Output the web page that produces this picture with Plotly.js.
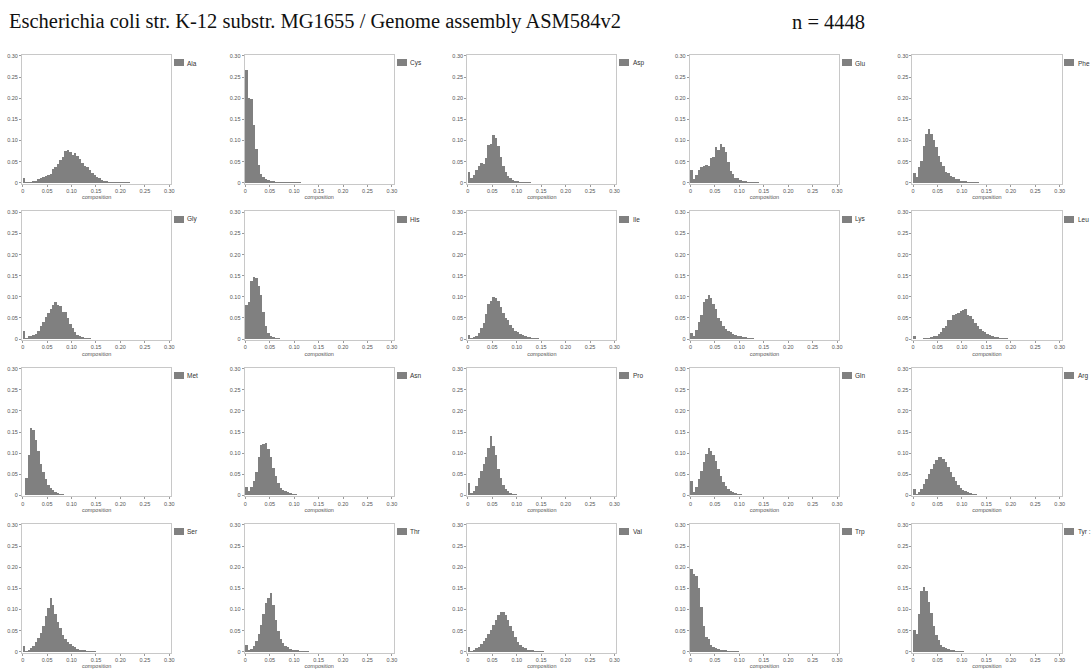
<!DOCTYPE html>
<html>
<head>
<meta charset="utf-8">
<script src="https://cdn.plot.ly/plotly-3.0.1.min.js"></script>
<style>html,body{margin:0;padding:0;background:#fff;}#chart{width:1091px;height:669px;}</style>
</head>
<body>
<div id="chart"></div>
<script>
// ---- data: relative frequency per composition bin (bin width 0.005, first bin starts at 0) ----
const binStart = 0;
const binWidth = 0.005;
const labels = ["Ala","Cys","Asp","Glu","Phe","Gly","His","Ile","Lys","Leu","Met","Asn","Pro","Gln","Arg","Ser","Thr","Val","Trp","Tyr :"];
const ala = [0.010,0.001,0.001,0.002,0.003,0.005,0.008,0.011,0.013,0.015,0.018,0.021,0.032,0.036,0.045,0.053,0.062,0.074,0.078,0.072,0.065,0.071,0.064,0.056,0.047,0.040,0.038,0.031,0.024,0.019,0.014,0.010,0.006,0.004,0.003,0.002,0.002,0.001,0.001,0.001,0.0005,0.0005,0.0005,0.0005];
const cys = [0.267,0.201,0.199,0.136,0.080,0.041,0.021,0.013,0.008,0.006,0.004,0.003,0.002,0.002,0.002,0.001,0.001,0.002,0.001,0.001,0.001,0.0005,0.0005];
const asp = [0.026,0.010,0.018,0.030,0.040,0.047,0.045,0.058,0.090,0.092,0.113,0.105,0.088,0.060,0.040,0.025,0.016,0.010,0.006,0.004,0.003,0.002,0.002,0.001,0.001,0.0005];
const glu = [0.030,0.008,0.018,0.030,0.036,0.040,0.042,0.040,0.058,0.062,0.085,0.078,0.092,0.085,0.072,0.050,0.028,0.020,0.012,0.010,0.006,0.004,0.003,0.002,0.002,0.001,0.001,0.0005];
const phe = [0.024,0.013,0.036,0.052,0.087,0.115,0.128,0.115,0.100,0.084,0.063,0.050,0.040,0.026,0.022,0.015,0.014,0.009,0.008,0.005,0.004,0.003,0.002,0.002,0.001,0.001,0.0005];
const gly = [0.018,0.003,0.007,0.008,0.010,0.012,0.020,0.030,0.040,0.052,0.062,0.071,0.080,0.087,0.081,0.078,0.065,0.064,0.050,0.036,0.025,0.016,0.010,0.007,0.004,0.003,0.002,0.002,0.001,0.001,0.001];
const his = [0.080,0.088,0.137,0.146,0.145,0.125,0.105,0.064,0.030,0.015,0.008,0.005,0.003,0.002,0.001,0.001,0.0005];
const ile = [0.010,0.002,0.004,0.008,0.015,0.025,0.038,0.060,0.083,0.091,0.099,0.097,0.091,0.075,0.062,0.050,0.044,0.034,0.027,0.020,0.017,0.012,0.009,0.007,0.005,0.004,0.003,0.002,0.002,0.001,0.001];
const lys = [0.014,0.006,0.022,0.040,0.058,0.088,0.095,0.104,0.097,0.083,0.072,0.050,0.042,0.032,0.024,0.020,0.016,0.012,0.010,0.008,0.006,0.005,0.004,0.003,0.002,0.002,0.001,0.001];
const leu = [0.006,0.001,0.001,0.001,0.002,0.002,0.003,0.004,0.006,0.008,0.012,0.016,0.025,0.032,0.046,0.044,0.056,0.060,0.062,0.066,0.068,0.072,0.058,0.055,0.047,0.038,0.031,0.024,0.019,0.017,0.013,0.009,0.007,0.005,0.004,0.003,0.003,0.002,0.002,0.001,0.001,0.001];
const met = [0.002,0.040,0.095,0.160,0.155,0.130,0.105,0.075,0.055,0.038,0.025,0.018,0.012,0.008,0.006,0.004,0.003,0.002,0.002,0.001,0.001,0.001];
const asn = [0.020,0.010,0.020,0.035,0.055,0.090,0.120,0.122,0.125,0.110,0.090,0.065,0.045,0.030,0.018,0.013,0.010,0.007,0.005,0.004,0.003,0.002,0.002,0.001,0.001,0.001];
const pro = [0.030,0.005,0.010,0.022,0.040,0.058,0.075,0.092,0.112,0.140,0.118,0.095,0.062,0.040,0.025,0.015,0.010,0.006,0.004,0.003,0.002,0.002,0.001,0.001];
const gln = [0.035,0.008,0.020,0.038,0.058,0.080,0.098,0.112,0.105,0.096,0.082,0.062,0.046,0.032,0.022,0.016,0.011,0.008,0.006,0.004,0.003,0.002,0.002,0.001,0.001];
const arg = [0.015,0.003,0.008,0.016,0.026,0.038,0.050,0.062,0.074,0.084,0.090,0.092,0.086,0.078,0.066,0.055,0.044,0.034,0.025,0.018,0.013,0.010,0.007,0.005,0.004,0.003,0.002,0.002,0.001,0.001];
const ser = [0.013,0.002,0.005,0.009,0.014,0.022,0.032,0.045,0.062,0.085,0.104,0.127,0.110,0.090,0.070,0.055,0.040,0.030,0.022,0.018,0.013,0.010,0.007,0.005,0.004,0.003,0.002,0.002,0.001,0.001];
const thr = [0.017,0.003,0.007,0.014,0.026,0.042,0.064,0.090,0.115,0.128,0.138,0.110,0.075,0.048,0.030,0.020,0.014,0.010,0.007,0.005,0.004,0.003,0.002,0.002,0.001,0.001];
const val = [0.012,0.002,0.005,0.008,0.012,0.018,0.025,0.033,0.042,0.052,0.063,0.075,0.088,0.095,0.095,0.088,0.075,0.062,0.048,0.035,0.024,0.016,0.011,0.008,0.005,0.004,0.003,0.002,0.002,0.001,0.001];
const trp = [0.195,0.185,0.180,0.150,0.105,0.060,0.035,0.030,0.015,0.012,0.008,0.006,0.005,0.003,0.003,0.002,0.002,0.001,0.001,0.001];
const tyr = [0.051,0.042,0.090,0.144,0.152,0.144,0.118,0.092,0.062,0.040,0.028,0.017,0.012,0.008,0.006,0.004,0.003,0.002,0.002,0.001,0.001];
const tickVals = [0, 0.05, 0.10, 0.15, 0.20, 0.25, 0.30];
const tickText = ["0", "0.05", "0.10", "0.15", "0.20", "0.25", "0.30"];
const titleText = "Escherichia coli str. K-12 substr. MG1655 / Genome assembly ASM584v2";
const countText = "n = 4448";

const series = [ala, cys, asp, glu, phe, gly, his, ile, lys, leu, met, asn, pro, gln, arg, ser, thr, val, trp, tyr];

// ---- layout geometry (pixels) ----
const W = 1091, H = 669;
const xRange = [-0.0015, 0.304], yRange = [-0.002, 0.302];
const pxPerX = 146.6 / 0.30, pxPerY = 126.7 / 0.30;
const colZero = 22.7, colPitch = 222.6;
const rowTop = 56, rowPitch = 156.33;

const data = [];
const layout = {
  width: W, height: H,
  margin: {l: 0, r: 0, t: 0, b: 0},
  paper_bgcolor: '#ffffff', plot_bgcolor: '#ffffff',
  showlegend: false,
  font: {family: 'Liberation Sans, Arial, sans-serif', size: 6, color: '#444'},
  annotations: [],
  bargap: 0
};

series.forEach((vals, k) => {
  const r = Math.floor(k / 5), c = k % 5;
  const sfx = k === 0 ? '' : String(k + 1);
  data.push({
    type: 'bar',
    x: vals.map((_, i) => binStart + i * binWidth + binWidth / 2),
    y: vals,
    width: binWidth,
    marker: {color: '#808080', line: {width: 0}},
    xaxis: 'x' + sfx, yaxis: 'y' + sfx,
    name: labels[k],
    hoverinfo: 'x+y'
  });
  const x0 = colZero + c * colPitch;          // pixel of composition 0
  const yTopVal = rowTop + r * rowPitch;       // pixel of 0.30
  const yZero = yTopVal + 0.30 * pxPerY;       // pixel of 0
  const left = x0 + xRange[0] * pxPerX;
  const right = x0 + xRange[1] * pxPerX;
  const top = yZero - yRange[1] * pxPerY;
  const bottom = yZero - yRange[0] * pxPerY;
  const axCommon = {
    showgrid: false, zeroline: false,
    showline: true, linecolor: '#c8c8c8', linewidth: 1, mirror: true,
    ticks: 'outside', ticklen: 2, tickwidth: 1, tickcolor: '#9a9a9a',
    tickvals: tickVals, ticktext: tickText,
    tickfont: {size: 5.5, color: '#555'},
    fixedrange: true
  };
  layout['xaxis' + sfx] = Object.assign({}, axCommon, {
    domain: [left / W, right / W], range: xRange, anchor: 'y' + sfx,
    title: {text: 'composition', font: {size: 5.5, color: '#555'}, standoff: 2}
  });
  layout['yaxis' + sfx] = Object.assign({}, axCommon, {
    domain: [1 - bottom / H, 1 - top / H], range: yRange, anchor: 'x' + sfx
  });
  // legend swatch + label
  const sw = x0 + 0.30 * pxPerX + 4.7;
  layout.annotations.push({
    xref: 'paper', yref: 'paper', x: sw / W, y: 1 - (yTopVal + 3.3) / H,
    xanchor: 'left', yanchor: 'top', text: ' ', showarrow: false,
    width: 10, height: 7, bgcolor: '#808080', borderpad: 0, borderwidth: 0,
    font: {size: 4}
  });
  layout.annotations.push({
    xref: 'paper', yref: 'paper', x: (sw + 11.5) / W, y: 1 - (yTopVal + 7) / H,
    xanchor: 'left', yanchor: 'middle', text: labels[k], showarrow: false,
    font: {size: 6.5, color: '#333'}
  });
});

layout.annotations.push({
  xref: 'paper', yref: 'paper', x: 7 / W, y: 1 - 22 / H, xanchor: 'left', yanchor: 'middle',
  text: titleText, showarrow: false,
  font: {family: 'Liberation Serif, Times New Roman, serif', size: 20.5, color: '#111'}
});
layout.annotations.push({
  xref: 'paper', yref: 'paper', x: 790 / W, y: 1 - 22 / H, xanchor: 'left', yanchor: 'middle',
  text: countText, showarrow: false,
  font: {family: 'Liberation Serif, Times New Roman, serif', size: 20.5, color: '#111'}
});

Plotly.newPlot('chart', data, layout, {displayModeBar: false, staticPlot: true});
</script>
</body>
</html>
